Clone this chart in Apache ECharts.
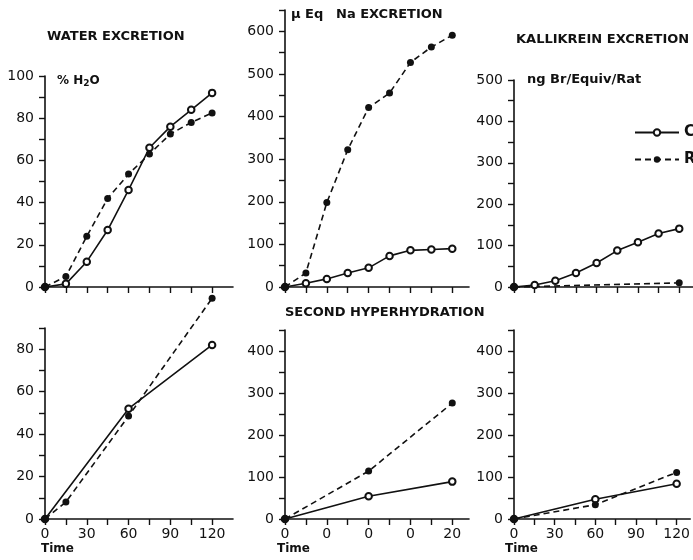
<!DOCTYPE html>
<html>
<head>
<meta charset="utf-8">
<script src="https://cdn.jsdelivr.net/npm/echarts@6/dist/echarts.min.js"></script>
<style>html,body{margin:0;padding:0;background:#fff}#c{width:693px;height:560px}</style>
</head>
<body>
<div id="c"></div>
<script>
// ---- data ----
const timeFirst = [0, 15, 30, 45, 60, 75, 90, 105, 120];
const waterC = [0, 1.5, 12, 27, 46, 66, 76, 84, 92];
const waterR = [0, 5, 24, 42, 53.5, 63, 72.5, 78, 82.5];
const naC = [0, 9, 19, 33, 45, 73, 86, 88, 90];
const naR = [0, 33, 198, 322, 421, 455, 527, 563, 591];
const kalC = [0, 5, 15, 34, 58, 88, 108, 129, 141];
const kalRTime = [0, 120];
const kalR = [0, 10];

const time2C = [0, 60, 120];
const time2RWater = [0, 15, 60, 120];
const time2R = [0, 60, 120];
const water2C = [0, 52, 82];
const water2R = [0, 8, 48.5, 104];
const na2C = [0, 54, 89];
const na2R = [0, 114, 276];
const kal2C = [0, 47, 84];
const kal2R = [0, 34, 111];

// ---- ticks / labels ----
const xTicks = [0, 15, 30, 45, 60, 75, 90, 105, 120];
const xLabelValues = [0, 30, 60, 90, 120];
const xLabelsMid = ['0', '0', '0', '0', '20'];
const waterYTicks = [0, 10, 20, 30, 40, 50, 60, 70, 80, 90, 100];
const waterYLabels = [0, 20, 40, 60, 80, 100];
const water2YTicks = [0, 10, 20, 30, 40, 50, 60, 70, 80, 90];
const water2YLabels = [0, 20, 40, 60, 80];
const naYTicks = [0, 50, 100, 150, 200, 250, 300, 350, 400, 450, 500, 550, 600, 650];
const naYLabels = [0, 100, 200, 300, 400, 500, 600];
const kalYTicks = [0, 50, 100, 150, 200, 250, 300, 350, 400, 450, 500];
const kalYLabels = [0, 100, 200, 300, 400, 500];
const secondYTicks = [0, 50, 100, 150, 200, 250, 300, 350, 400, 450];
const secondYLabels = [0, 100, 200, 300, 400];

const pairs = (xs, ys) => xs.map((x, i) => [x, ys[i]]);
const FONT = 'DejaVu Sans';
const INK = '#111';

const grids = [
  {left: 45, top: 76, width: 188, height: 211},
  {left: 285, top: 10, width: 184, height: 277},
  {left: 514, top: 80, width: 181, height: 207},
  {left: 45, top: 328, width: 188, height: 191},
  {left: 285, top: 330, width: 184, height: 189},
  {left: 514, top: 330, width: 181, height: 189}
];
const xMax = [135, 132, 130, 135, 132, 130];
const yMax = [100, 650, 500, 90, 450, 450];
const yTicks = [waterYTicks, naYTicks, kalYTicks, water2YTicks, secondYTicks, secondYTicks];
const yLabels = [waterYLabels, naYLabels, kalYLabels, water2YLabels, secondYLabels, secondYLabels];

const axisLine = {show: true, lineStyle: {color: INK, width: 1.6}};
const xAxis = grids.map((g, i) => ({
  type: 'value', gridIndex: i, min: 0, max: xMax[i],
  axisLine: Object.assign({onZero: false}, axisLine),
  axisTick: {show: true, length: 6, customValues: xTicks, lineStyle: {color: INK, width: 1.4}},
  axisLabel: {
    show: i >= 3, customValues: xLabelValues, margin: 8,
    fontFamily: FONT, fontSize: 14, color: INK,
    formatter: (v) => i === 4 ? xLabelsMid[xLabelValues.indexOf(v)] : String(v)
  },
  splitLine: {show: false}
}));
const yAxis = grids.map((g, i) => ({
  type: 'value', gridIndex: i, min: 0, max: yMax[i],
  axisLine: Object.assign({onZero: false}, axisLine),
  axisTick: {show: true, length: 6, customValues: yTicks[i], lineStyle: {color: INK, width: 1.4}},
  axisLabel: {customValues: yLabels[i], margin: 11, fontFamily: FONT, fontSize: 14, color: INK},
  splitLine: {show: false}
}));

function cSeries(idx, data) {
  return {
    name: 'C', type: 'line', xAxisIndex: idx, yAxisIndex: idx, data: data,
    symbol: 'emptyCircle', symbolSize: 6.5, clip: false,
    lineStyle: {color: INK, width: 1.6, type: 'solid'},
    itemStyle: {color: INK, borderColor: INK, borderWidth: 1.3}
  };
}
function rSeries(idx, data) {
  return {
    name: 'R', type: 'line', xAxisIndex: idx, yAxisIndex: idx, data: data,
    symbol: 'circle', symbolSize: 7, clip: false,
    lineStyle: {color: INK, width: 1.6, type: [6, 4]},
    itemStyle: {color: INK}
  };
}

const series = [
  cSeries(0, pairs(timeFirst, waterC)), rSeries(0, pairs(timeFirst, waterR)),
  cSeries(1, pairs(timeFirst, naC)), rSeries(1, pairs(timeFirst, naR)),
  cSeries(2, pairs(timeFirst, kalC)), rSeries(2, pairs(kalRTime, kalR)),
  cSeries(3, pairs(time2C, water2C)), rSeries(3, pairs(time2RWater, water2R)),
  cSeries(4, pairs(time2C, na2C)), rSeries(4, pairs(time2R, na2R)),
  cSeries(5, pairs(time2C, kal2C)), rSeries(5, pairs(time2R, kal2R))
];

const tStyle = {fontFamily: FONT, fontSize: 13, fontWeight: 'bold', color: INK};
const titles = [
  {text: 'WATER EXCRETION', left: 47, top: 30},
  {text: 'μ Eq', left: 291, top: 8},
  {text: 'Na EXCRETION', left: 336, top: 8},
  {text: 'KALLIKREIN EXCRETION', left: 516, top: 33},
  {text: '% H{s|2}O', left: 57, top: 73},
  {text: 'ng Br/Equiv/Rat', left: 527, top: 73},
  {text: 'SECOND HYPERHYDRATION', left: 285, top: 306},
  {text: 'Time', left: 41, top: 543},
  {text: 'Time', left: 277, top: 543},
  {text: 'Time', left: 505, top: 543}
].map(t => ({
  text: t.text, left: t.left, top: t.top, padding: 0,
  textStyle: Object.assign({}, tStyle, {rich: {s: {fontFamily: FONT, fontSize: 9, fontWeight: 'bold', color: INK, verticalAlign: 'bottom', padding: [6, 0, 0, 0]}}})
}));
titles[4].textStyle.fontSize = 12;
titles[7].textStyle.fontSize = 12;
titles[8].textStyle.fontSize = 12;
titles[9].textStyle.fontSize = 12;

const chart = echarts.init(document.getElementById('c'), null, {renderer: 'canvas'});
chart.setOption({
  animation: false,
  backgroundColor: '#fff',
  title: titles,
  grid: grids,
  xAxis: xAxis,
  yAxis: yAxis,
  legend: {
    data: ['C', 'R'], orient: 'vertical', left: 629, top: 120,
    itemWidth: 44, itemHeight: 8, itemGap: 12,
    textStyle: {fontFamily: FONT, fontSize: 15, fontWeight: 'bold', color: INK},
    selectedMode: false
  },
  series: series
});
</script>
</body>
</html>
